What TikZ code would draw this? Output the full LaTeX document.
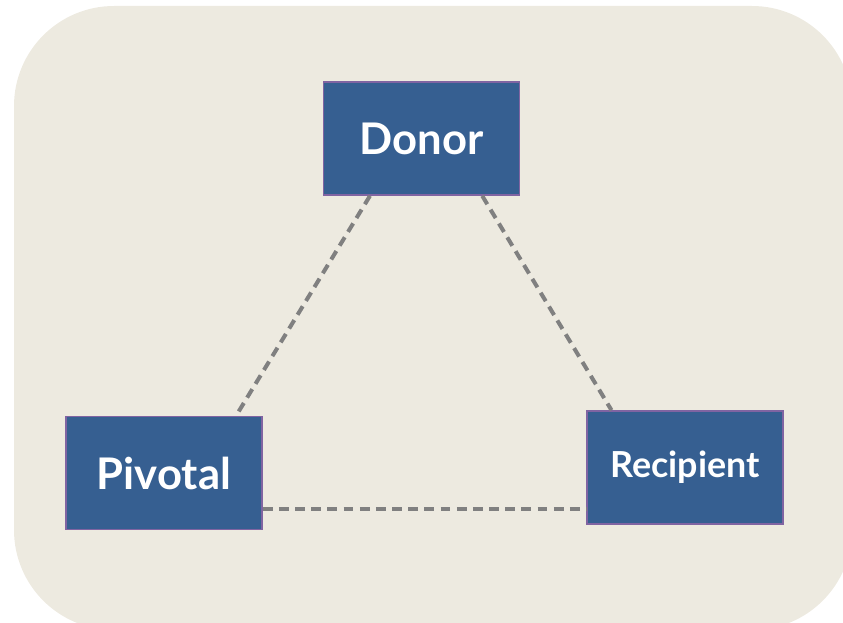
\documentclass[tikz,border=0pt]{standalone}
\usepackage{fontspec}
\setmainfont{Lato}
\usetikzlibrary{calc}

\definecolor{panelbg}{HTML}{EDEAE0}
\definecolor{boxblue}{HTML}{365F91}
\definecolor{boxedge}{HTML}{8064A2}
\definecolor{linkgray}{HTML}{808080}

\tikzset{
  role/.style={draw=boxedge, line width=1pt, fill=boxblue, text=white,
    font=\bfseries\fontsize{31}{36}\selectfont,
    minimum width=4.9cm, minimum height=2.83cm, inner sep=0pt},
  link/.style={draw=linkgray, line width=2.85pt, dash pattern=on 7pt off 4.5pt}
}

\begin{document}
\begin{tikzpicture}[x=0.025cm, y=-0.025cm]
  % canvas
  \useasboundingbox (0,0) rectangle (843,623);
  \clip (0,0) rectangle (843,623);
  \fill[panelbg, rounded corners=2.5cm] (14,6) rectangle (852,630);

  % roles
  \node[role] (donor) at (421.5,138.5) {Donor};
  \node[role] (pivotal) at (164,473) {Pivotal};
  \node[role, font=\bfseries\fontsize{25.5}{30}\selectfont] (recipient) at (685,467.5) {Recipient};

  % links
  \draw[link] ([xshift=1.18cm]donor.south west) -- ([xshift=4.27cm]pivotal.north west);
  \draw[link] ([xshift=-0.95cm]donor.south east) -- ([xshift=0.63cm]recipient.north west);
  \coordinate (pr) at ([yshift=-0.9cm]pivotal.east);
  \draw[link] (pr) -- (pr -| recipient.west);
\end{tikzpicture}
\end{document}
